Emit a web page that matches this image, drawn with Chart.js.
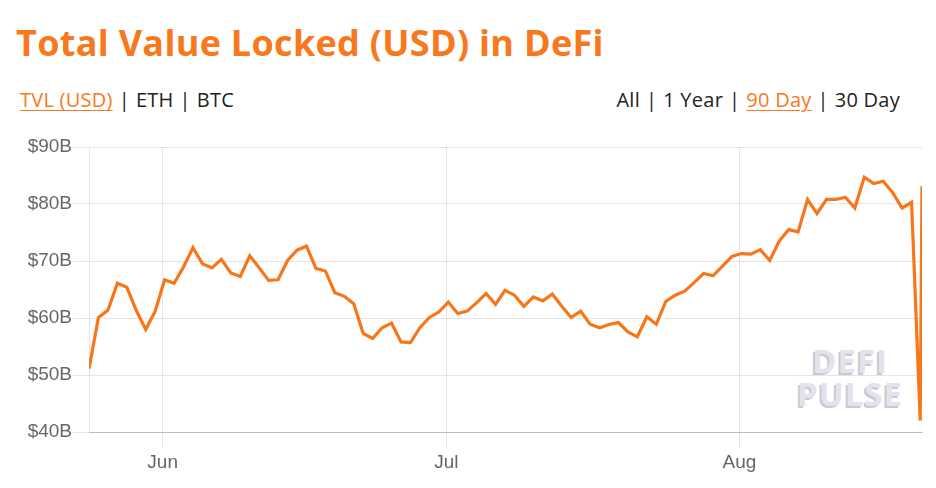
<!DOCTYPE html>
<html>
<head>
<meta charset="utf-8">
<script src="https://cdn.jsdelivr.net/npm/chart.js@4"></script>
<style>
  html, body { margin: 0; padding: 0; background: #fff; }
  body { width: 936px; height: 488px; position: relative; overflow: hidden; }
  #title { position: absolute; left: 16px; top: 21px; font-family: "Open Sans", sans-serif; font-weight: 700;
           font-size: 36px; line-height: 44px; color: #f7781d; white-space: nowrap; letter-spacing: 0.3px; }
  .row { position: absolute; top: 88px; font-family: "Open Sans", sans-serif; font-size: 20px; line-height: 24px; color: #222;
         white-space: nowrap; letter-spacing: 0.25px; }
  .row .on { color: #f7781d; text-decoration: underline; text-decoration-thickness: 1px; text-underline-offset: 3px; }
  .row .sep { margin: 0 6px; }
  #left { left: 20px; }
  #right { right: 36px; }
  #wm { position: absolute; left: 790px; top: 344px; width: 120px; text-align: center; font-family: "Open Sans", sans-serif;
        font-weight: 700; font-size: 33px; line-height: 33px; color: #e4e3eb; letter-spacing: 1px;
        text-shadow: -2px 2px 0 #cac8d6; z-index: 0; }
  #wrap { position: absolute; left: 0; top: 130px; width: 936px; height: 358px; z-index: 1; }
</style>
</head>
<body>
<div id="title">Total Value Locked (USD) in DeFi</div>
<div class="row" id="left"><span class="on">TVL (USD)</span><span class="sep">|</span>ETH<span class="sep">|</span>BTC</div>
<div class="row" id="right">All<span class="sep">|</span>1 Year<span class="sep">|</span><span class="on">90 Day</span><span class="sep">|</span>30 Day</div>
<div id="wm">DEFI<br>PULSE</div>
<div id="wrap"><canvas id="c"></canvas></div>
<script>
// Daily TVL samples (billions USD), first sample time below
const firstSample = '2021-05-24T05:00:00Z';
const dailyTvl = [
  51.1, 60.1, 61.35, 66.1, 65.4, 61.3, 58.0, 61.2, 66.7, 66.1,
  68.95, 72.35, 69.5, 68.8, 70.3, 67.9, 67.3, 70.9, 68.8, 66.6,
  66.7, 70.1, 71.9, 72.6, 68.7, 68.25, 64.45, 63.8, 62.5, 57.3,
  56.4, 58.3, 59.1, 55.8, 55.7, 58.3, 60.1, 61.05, 62.8, 60.8,
  61.2, 62.7, 64.3, 62.4, 64.85, 64.0, 62.05, 63.7, 63.0, 64.2,
  62.05, 60.1, 61.2, 58.9, 58.3, 58.85, 59.2, 57.55, 56.7, 60.2,
  58.9, 62.9, 64.0, 64.7, 66.2, 67.8, 67.4, 69.1, 70.8, 71.3,
  71.2, 72.0, 70.1, 73.5, 75.5, 75.1, 80.8, 78.3, 80.8, 80.8,
  81.2, 79.3, 84.7, 83.6, 84.0, 82.0, 79.3, 80.3
];
// Latest intraday samples
const latestTimes = ['2021-08-20T03:00:00Z', '2021-08-20T07:30:00Z'];
const latestTvl = [42.0, 83.1];
// Axis ticks
const monthTicks = ['2021-06-01T00:00:00Z', '2021-07-01T00:00:00Z', '2021-08-01T00:00:00Z'];
const monthLabels = ['Jun', 'Jul', 'Aug'];
const yTicks = [40, 50, 60, 70, 80, 90];

const DAY = 86400000;
const toDays = s => Date.parse(s) / DAY;
const t0 = toDays(firstSample);
const points = dailyTvl.map((v, i) => ({ x: t0 + i, y: v }))
  .concat(latestTimes.map((t, i) => ({ x: toDays(t), y: latestTvl[i] })));
const tickVals = monthTicks.map(toDays);

const tickFont = { family: '"Liberation Sans", Arial, sans-serif', size: 19 };

new Chart(document.getElementById('c'), {
  type: 'line',
  data: { datasets: [{ data: points, borderColor: '#f7761a', borderWidth: 3.2, pointRadius: 0, tension: 0, fill: false }] },
  options: {
    responsive: true, maintainAspectRatio: false, animation: false,
    layout: { padding: { top: 17, right: 14, left: 0, bottom: 0 } },
    plugins: { legend: { display: false }, tooltip: { enabled: false } },
    scales: {
      x: {
        type: 'linear', min: points[0].x, max: points[points.length - 1].x,
        afterBuildTicks: s => { s.ticks = tickVals.map(v => ({ value: v })); },
        afterFit: s => { s.height = 56; },
        ticks: { font: tickFont, color: '#666', padding: 3, maxRotation: 0,
                 callback: (v) => monthLabels[tickVals.indexOf(v)] },
        grid: { color: 'rgba(0,0,0,0.1)', tickLength: 16, lineWidth: 1 },
        border: { color: 'rgba(0,0,0,0.18)' }
      },
      y: {
        min: 40, max: 90,
        afterBuildTicks: s => { s.ticks = yTicks.map(v => ({ value: v })); },
        afterFit: s => { s.width = 89; },
        ticks: { font: tickFont, color: '#666', padding: 1, callback: v => '$' + v + 'B' },
        grid: { color: 'rgba(0,0,0,0.1)', tickLength: 16, lineWidth: 1 },
        border: { color: 'rgba(0,0,0,0.1)' }
      }
    }
  }
});
</script>
</body>
</html>
